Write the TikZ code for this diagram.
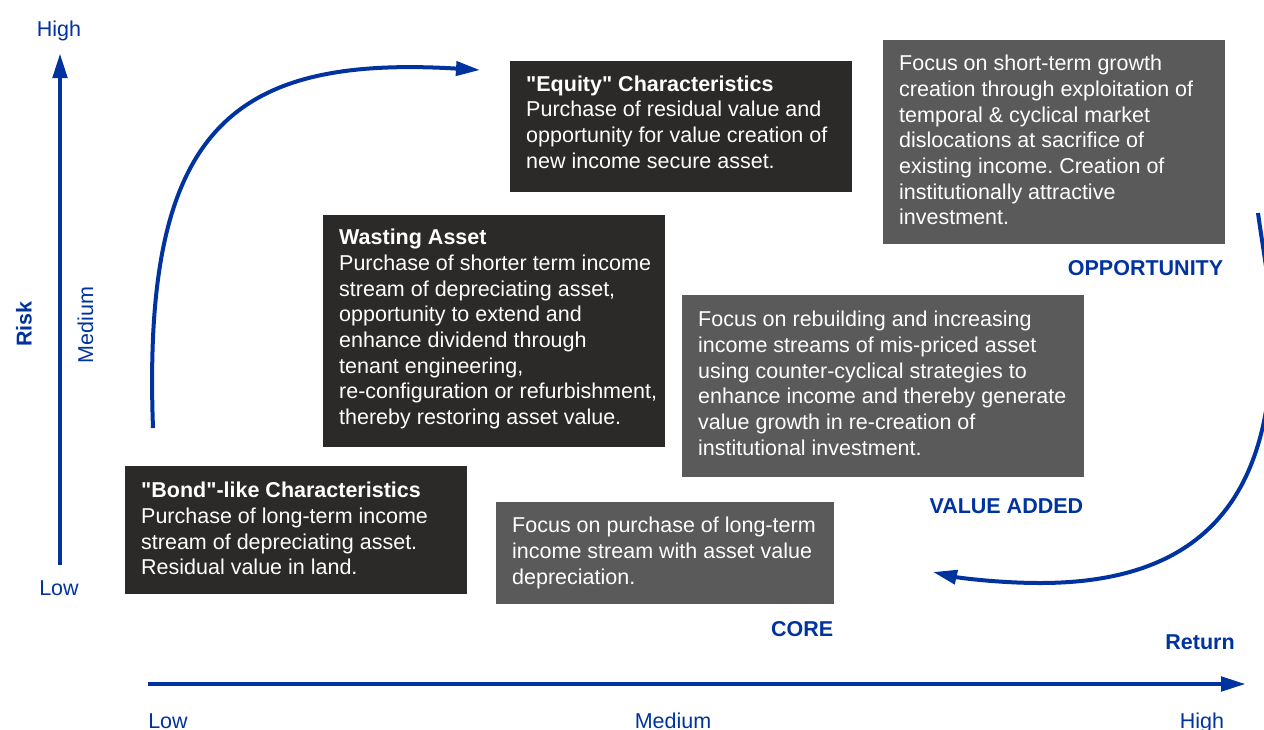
\documentclass[tikz,border=0pt]{standalone}
\usepackage{fontspec}
\setmainfont{Liberation Sans}
\usetikzlibrary{arrows.meta}
\definecolor{riskblue}{RGB}{0,51,160}
\definecolor{boxdark}{RGB}{43,42,40}
\definecolor{boxgrey}{RGB}{90,90,90}
\frenchspacing
\begin{document}
\begin{tikzpicture}[x=1pt, y=-1pt,
  darkbox/.style={fill=boxdark, anchor=north west},
  greybox/.style={fill=boxgrey, anchor=north west},
  boxtext/.style={anchor=north west, align=left, text=white, font=\fontsize{21.5}{25.7}\selectfont},
  axislabel/.style={anchor=base, text=riskblue, font=\fontsize{21.5}{25.7}\selectfont},
  quadrant/.style={anchor=base east, text=riskblue, font=\fontsize{21.5}{25.7}\selectfont\bfseries},
  axisarrow/.style={draw=riskblue, line width=4.8pt, -{Triangle[length=25pt,width=14pt]}},
  movearrow/.style={draw=riskblue, line width=4pt, -{Triangle[length=24pt,width=14pt]}}]
\tikzstyle{every node}+=[inner sep=0pt]
\useasboundingbox (0,0) rectangle (1264,729);
% boxes
\node [darkbox, minimum width=342pt, minimum height=131pt] (equity) at (510,61) {};
\node [darkbox, minimum width=342pt, minimum height=232pt] (wasting) at (323,215) {};
\node [darkbox, minimum width=342pt, minimum height=128pt] (bond) at (125,466) {};
\node [greybox, minimum width=342pt, minimum height=204pt] (opportunity) at (883,40) {};
\node [greybox, minimum width=402pt, minimum height=182pt] (valueadded) at (682,295) {};
\node [greybox, minimum width=338pt, minimum height=102pt] (core) at (496,502) {};
% box texts
\node [boxtext] (equity text) at ([shift={(16,14.5)}]equity.north west)
  {{\bfseries \textquotedbl Equity\textquotedbl{} Characteristics}\\Purchase of residual value and\\opportunity for value creation of\\new income secure asset.};
\node [boxtext] (wasting text) at ([shift={(16,14)}]wasting.north west)
  {{\bfseries Wasting Asset}\\Purchase of shorter term income\\stream of depreciating asset,\\opportunity to extend and\\enhance dividend through\\tenant engineering,\\re-configuration or refurbishment,\\thereby restoring asset value.};
\node [boxtext] (bond text) at ([shift={(16,16)}]bond.north west)
  {{\bfseries \textquotedbl Bond\textquotedbl-like Characteristics}\\Purchase of long-term income\\stream of depreciating asset.\\Residual value in land.};
\node [boxtext] (opportunity text) at ([shift={(16,15)}]opportunity.north west)
  {Focus on short-term growth\\creation through exploitation of\\temporal \& cyclical market\\dislocations at sacrifice of\\existing income. Creation of\\institutionally attractive\\investment.};
\node [boxtext] (valueadded text) at ([shift={(16,16)}]valueadded.north west)
  {Focus on rebuilding and increasing\\income streams of mis-priced asset\\using counter-cyclical strategies to\\enhance income and thereby generate\\value growth in re-creation of\\institutional investment.};
\node [boxtext] (core text) at ([shift={(16,15)}]core.north west)
  {Focus on purchase of long-term\\income stream with asset value\\depreciation.};
% quadrant labels
\node [quadrant] (opportunity label) at ([shift={(-2,31)}]opportunity.south east) {OPPORTUNITY};
\node [quadrant] (valueadded label) at ([shift={(-1,36)}]valueadded.south east) {VALUE ADDED};
\node [quadrant] (core label) at ([shift={(-1,32)}]core.south east) {CORE};
% axes
\coordinate (risk foot) at (60,565);
\coordinate (risk tip) at (60,53);
\coordinate (return foot) at (148,684);
\coordinate (return tip) at (1246,684);
\draw [axisarrow] (risk foot) -- (risk tip);
\draw [axisarrow] (return foot) -- (return tip);
\node [axislabel] (risk high) at (59,36.7) {High};
\node [axislabel] (risk low) at (59,595) {Low};
\node [axislabel, rotate=90] (risk medium) at (93,325) {Medium};
\node [axislabel, rotate=90, font=\fontsize{21.5}{25.7}\selectfont\bfseries] (risk title) at (31.5,324) {Risk};
\node [axislabel] (return low) at (168,728) {Low};
\node [axislabel] (return medium) at (673,728) {Medium};
\node [axislabel] (return high) at (1202,728) {High};
\node [axislabel, font=\fontsize{21.5}{25.7}\selectfont\bfseries] (return title) at (1200,649.5) {Return};
% moves between strategies
\coordinate (climb start) at (153,428);
\coordinate (climb end) at (480,70);
\draw [movearrow] (climb start) .. controls (142,130) and (230,55) .. (climb end);
\coordinate (drop start) at (1258,213);
\coordinate (drop end) at (933,572);
\draw [movearrow] (drop start) .. controls (1263,250) and (1272,295) .. (1272,335)
  .. controls (1272,490) and (1210,583) .. (1040,583)
  .. controls (1000,583) and (960,578) .. (drop end);
\end{tikzpicture}
\end{document}
